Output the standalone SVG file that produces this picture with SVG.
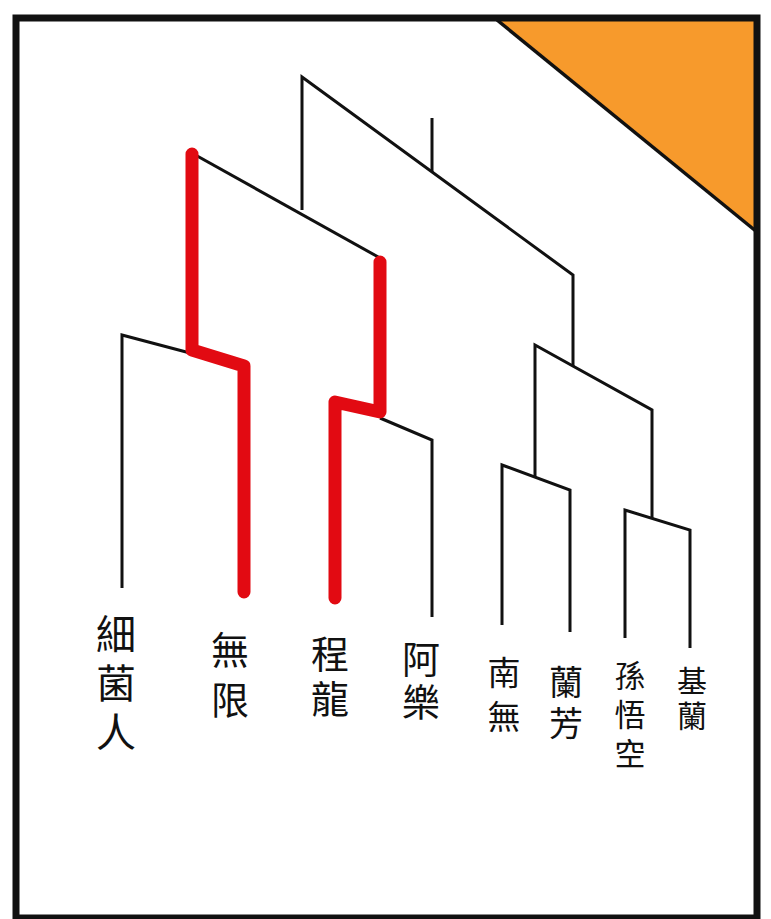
<svg xmlns="http://www.w3.org/2000/svg" width="771" height="919" viewBox="0 0 771 919">
  <style>
    .tree { fill: none; stroke: #111; stroke-width: 3; stroke-linejoin: miter; stroke-linecap: butt; }
    .hl { fill: none; stroke: #E20A12; stroke-width: 13; stroke-linejoin: round; stroke-linecap: round; }
    .lbl { font-family: "Noto Sans CJK TC", "Noto Sans CJK SC", sans-serif; fill: #111; writing-mode: vertical-rl; text-anchor: start; }
  </style>
  <rect x="0" y="0" width="771" height="919" fill="#ffffff"/>
  <g id="corner">
    <polygon points="497,20 757,20 757,232" fill="#F79A2C"/>
    <line x1="497" y1="20" x2="757" y2="232" stroke="#111" stroke-width="3.5"/>
  </g>
  <rect id="frame" x="16" y="18" width="741" height="900" fill="none" stroke="#111" stroke-width="7"/>

  <g id="connectors">
    <path class="tree" d="M432,118 V172"/>
    <path class="tree" d="M302,210 V77 L573,275 V366"/>
    <path class="tree" d="M190,152 L380,258"/>
    <path class="tree" d="M122,588 V335 L190,353"/>
    <path class="tree" d="M380,418 L432,440 V617"/>
    <path class="tree" d="M535,477 V345 L652,410 V518"/>
    <path class="tree" d="M502,625 V465 L570,490 V632"/>
    <path class="tree" d="M625,638 V510 L690,530 V648"/>
    <path class="hl" d="M192,154 V350 L244,366 V592"/>
    <path class="hl" d="M380,262 V412 L335,402 V598"/>
  </g>

  <g id="leaf-xijunren">
    <text class="lbl" x="116" y="614" font-size="40" letter-spacing="9">細菌人</text>
  </g>
  <g id="leaf-wuxian">
    <text class="lbl" x="230" y="631" font-size="38" letter-spacing="12">無限</text>
  </g>
  <g id="leaf-chenglong">
    <text class="lbl" x="330" y="635" font-size="38" letter-spacing="7">程龍</text>
  </g>
  <g id="leaf-ale">
    <text class="lbl" x="421" y="640" font-size="38" letter-spacing="5">阿樂</text>
  </g>
  <g id="leaf-nanwu">
    <text class="lbl" x="504" y="656" font-size="33" letter-spacing="11">南無</text>
  </g>
  <g id="leaf-lanfang">
    <text class="lbl" x="566" y="665" font-size="34" letter-spacing="7">蘭芳</text>
  </g>
  <g id="leaf-sunwukong">
    <text class="lbl" x="630" y="660" font-size="31" letter-spacing="8">孫悟空</text>
  </g>
  <g id="leaf-jilan">
    <text class="lbl" x="692" y="666" font-size="30" letter-spacing="5">基蘭</text>
  </g>
</svg>
